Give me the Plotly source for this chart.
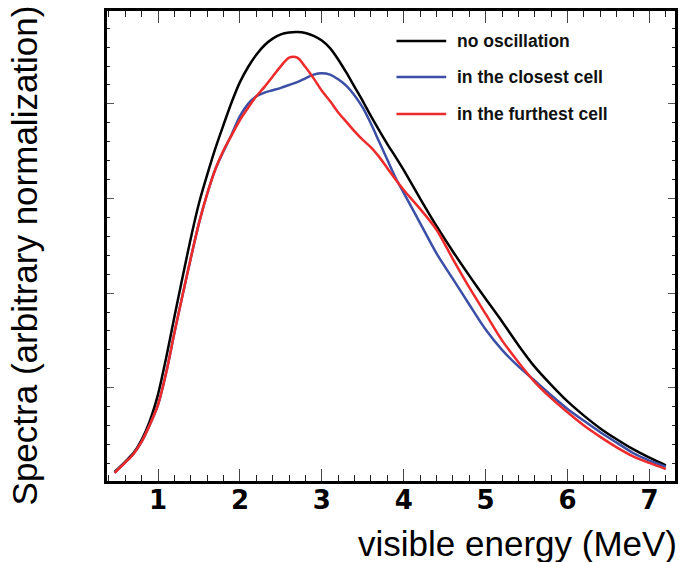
import plotly.graph_objects as go

energy = [0.47, 0.6, 0.7, 0.8, 0.9, 1.0, 1.1, 1.2, 1.3, 1.4, 1.5, 1.6, 1.7, 1.8, 1.9,
          2.0, 2.1, 2.2, 2.3, 2.4, 2.5, 2.6, 2.7, 2.8, 2.9, 3.0, 3.1, 3.2, 3.3, 3.4,
          3.5, 3.6, 3.7, 3.8, 3.9, 4.0, 4.2, 4.4, 4.6, 4.8, 5.0, 5.2, 5.4, 5.6, 5.8,
          6.0, 6.2, 6.4, 6.6, 6.8, 7.0, 7.2]

no_osc = [0.11, 0.22, 0.31, 0.45, 0.65, 0.93, 1.32, 1.75, 2.17, 2.58, 2.95, 3.25, 3.53, 3.78, 4.02,
          4.23, 4.39, 4.52, 4.62, 4.69, 4.735, 4.755, 4.76, 4.75, 4.72, 4.67, 4.59, 4.47, 4.33, 4.18,
          4.03, 3.87, 3.72, 3.575, 3.44, 3.30, 3.00, 2.71, 2.44, 2.185, 1.94, 1.70, 1.45, 1.22, 1.03,
          0.855, 0.705, 0.57, 0.455, 0.35, 0.26, 0.18]

closest = [0.10, 0.21, 0.30, 0.43, 0.61, 0.82, 1.16, 1.58, 1.98, 2.37, 2.74, 3.05, 3.31, 3.50, 3.68,
           3.87, 4.00, 4.08, 4.12, 4.145, 4.17, 4.20, 4.23, 4.27, 4.31, 4.325, 4.31, 4.26, 4.19, 4.09,
           3.96, 3.79, 3.60, 3.41, 3.22, 3.06, 2.74, 2.42, 2.15, 1.88, 1.615, 1.40, 1.225, 1.075, 0.92,
           0.775, 0.65, 0.53, 0.42, 0.31, 0.23, 0.165]

furthest = [0.10, 0.21, 0.30, 0.43, 0.61, 0.82, 1.16, 1.58, 1.98, 2.37, 2.74, 3.05, 3.31, 3.51, 3.67,
            3.83, 3.96, 4.08, 4.18, 4.29, 4.40, 4.49, 4.49, 4.39, 4.27, 4.14, 4.03, 3.91, 3.81, 3.71,
            3.62, 3.54, 3.44, 3.32, 3.20, 3.09, 2.89, 2.67, 2.36, 2.06, 1.78, 1.50, 1.27, 1.06, 0.89,
            0.74, 0.60, 0.48, 0.37, 0.275, 0.205, 0.14]

series_names = ["no oscillation", "in the closest cell", "in the furthest cell"]
series_colors = ["#000000", "#3c4fa6", "#ee2a2a"]
series_values = [no_osc, closest, furthest]

W, H = 683, 562
ML, MR, MT, MB = 107, 5, 11, 81
PW, PH = W - ML - MR, H - MT - MB


def px_x(p):
    return (p - ML) / PW


def px_y(p):
    return (H - MB - p) / PH


fig = go.Figure()
for name, color, vals in zip(series_names, series_colors, series_values):
    fig.add_trace(go.Scatter(x=energy, y=vals, mode="lines", name=name,
                             line=dict(color=color, width=2.5, shape="spline", smoothing=0.8),
                             showlegend=False, hoverinfo="skip"))

# custom legend
leg_y = [41, 77, 114]
for name, color, yy in zip(series_names, series_colors, leg_y):
    fig.add_shape(type="line", xref="paper", yref="paper",
                  x0=px_x(398), x1=px_x(448), y0=px_y(yy), y1=px_y(yy),
                  line=dict(color=color, width=2.5))
    fig.add_annotation(xref="paper", yref="paper", x=px_x(457), y=px_y(yy),
                       xanchor="left", yanchor="middle", showarrow=False, text=name,
                       font=dict(family="Liberation Sans", size=17.5, color="#111111", weight="bold"))

fig.add_annotation(xref="paper", yref="paper", x=px_x(24), y=px_y(255),
                   xanchor="center", yanchor="middle", showarrow=False, textangle=-90,
                   text="Spectra (arbitrary normalization)",
                   font=dict(family="Liberation Sans", size=35, color="#000000"))
fig.add_annotation(xref="paper", yref="paper", x=px_x(682), y=px_y(543),
                   xanchor="right", yanchor="middle", showarrow=False,
                   text="visible energy (MeV)",
                   font=dict(family="Liberation Sans", size=35, color="#000000"))

fig.update_xaxes(range=[0.377, 7.312], showgrid=False, zeroline=False,
                 showline=True, linecolor="#000000", linewidth=3.3, mirror="ticks",
                 ticks="inside", ticklen=12, tickwidth=1.2, tickcolor="#444444",
                 dtick=1, tick0=0, ticklabelstandoff=-6,
                 tickfont=dict(family="DejaVu Sans", size=26, color="#000000", weight="bold"),
                 minor=dict(ticks="inside", ticklen=6, tickwidth=1.2, tickcolor="#222222", dtick=0.2))
fig.update_yaxes(range=[0.014, 4.982], showgrid=False, zeroline=False,
                 showline=True, linecolor="#000000", linewidth=3.3, mirror="ticks",
                 ticks="inside", ticklen=7, tickwidth=1.2, tickcolor="#555555",
                 dtick=1, tick0=0, showticklabels=False,
                 minor=dict(ticks="inside", ticklen=3, tickwidth=1.2, tickcolor="#222222", dtick=0.2))

fig.update_layout(width=W, height=H, margin=dict(l=ML, r=MR, t=MT, b=MB),
                  plot_bgcolor="#ffffff", paper_bgcolor="#ffffff", hovermode=False)

# remove the browser's default body margin so the 683x562 figure fills the window exactly
fig.write_html("out.html", config={"displayModeBar": False},
               post_script="document.body.style.margin='0';document.body.style.overflow='hidden';")
